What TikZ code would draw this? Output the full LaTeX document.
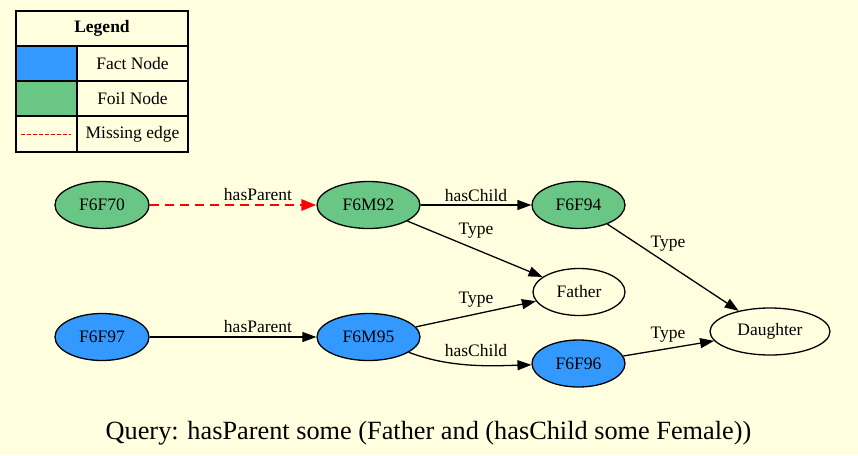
\documentclass[tikz,border=0pt]{standalone}
\usepackage{fontspec}
\setmainfont{Liberation Serif}
\usetikzlibrary{arrows.meta,shapes.geometric}
\definecolor{bgyellow}{RGB}{255,255,224}
\definecolor{factblue}{RGB}{51,153,255}
\definecolor{foilgreen}{RGB}{106,198,133}
\begin{document}
\begin{tikzpicture}[x=1pt,y=-1pt,
  every node/.style={font=\fontsize{17.5}{20}\selectfont},
  ent/.style={ellipse, draw, line width=1.3pt, inner sep=0pt, minimum height=47pt},
  fact/.style={ent, fill=factblue},
  foil/.style={ent, fill=foilgreen},
  cls/.style={ent, fill=bgyellow},
  edge/.style={line width=1.3pt, -{Triangle[length=14pt,width=10pt]}},
  missing/.style={line width=2.8pt, red, dash pattern=on 9pt off 6pt, -{Triangle[length=15pt,width=11pt]}},
  lbl/.style={anchor=base, inner sep=0pt, text=black},
  cell/.style={draw, line width=1.3pt, minimum height=35pt, inner sep=0pt}
]
\useasboundingbox (0,0) rectangle (858,455);
\fill[bgyellow] (0,0) rectangle (858,455);

% Legend
\node[cell, minimum width=172pt, font=\bfseries\fontsize{17.5}{20}\selectfont] (lgtitle) at (102,28.5) {Legend};
\node[cell, fill=factblue, minimum width=61pt] (lgfact) at (46.5,63.5) {};
\node[cell, minimum width=111pt] (lgfacttxt) at (132.5,63.5) {Fact Node};
\node[cell, fill=foilgreen, minimum width=61pt] (lgfoil) at (46.5,98.5) {};
\node[cell, minimum width=111pt] (lgfoiltxt) at (132.5,98.5) {Foil Node};
\node[cell, minimum width=61pt, minimum height=36pt] (lgmiss) at (46.5,134) {};
\node[cell, minimum width=111pt, minimum height=36pt] (lgmisstxt) at (132.5,134) {Missing edge};
\draw[red, line width=0.9pt, dash pattern=on 4pt off 2pt] ([xshift=6pt]lgmiss.west) -- ([xshift=-7pt]lgmiss.east);

% Nodes
\node[foil, minimum width=94pt] (f70) at (102,205) {F6F70};
\node[foil, minimum width=103pt] (m92) at (368.5,205) {F6M92};
\node[foil, minimum width=93pt] (f94) at (578.5,205) {F6F94};
\node[cls, minimum width=92pt] (father) at (579,292) {Father};
\node[cls, minimum width=120pt] (daughter) at (770,331.5) {Daughter};
\node[fact, minimum width=94pt] (f97) at (102,337) {F6F97};
\node[fact, minimum width=103pt] (m95) at (368.5,337) {F6M95};
\node[fact, minimum width=93pt] (f96) at (578.5,363.5) {F6F96};

% Edges
\draw[missing] (f70) -- (m92) node[lbl] at (258,200.5) {hasParent};
\draw[edge] (m92) -- (f94) node[lbl] at (476,201) {hasChild};
\draw[edge] (m92) -- (father) node[lbl] at (476,234) {Type};
\draw[edge] (f94) -- (daughter) node[lbl] at (668,247) {Type};
\draw[edge] (f97) -- (m95) node[lbl] at (258,332.5) {hasParent};
\draw[edge] (m95) -- (father) node[lbl] at (476,303) {Type};
\draw[edge] (m95) .. controls (450,368) and (490,366) .. (f96) node[lbl] at (476,356.5) {hasChild};
\draw[edge] (f96) -- (daughter) node[lbl] at (668,338) {Type};

% Query
\node[lbl, font=\fontsize{26.3}{30}\selectfont] (query) at (428.5,439) {Query: hasParent some (Father and (hasChild some Female))};
\end{tikzpicture}
\end{document}
